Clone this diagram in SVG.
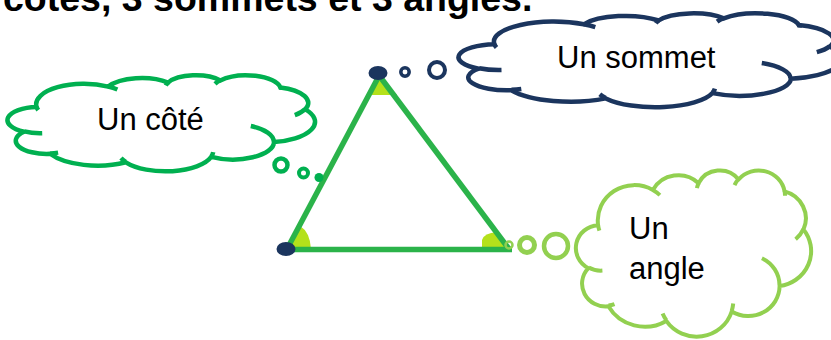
<svg xmlns="http://www.w3.org/2000/svg" width="831" height="340" viewBox="0 0 831 340">
<style>
.cl{fill:#ffffff;stroke-linejoin:round}
.ci{fill:none;stroke-linecap:butt}
.cote{stroke:#00b050;stroke-width:4.5}
.som{stroke:#1b355e;stroke-width:4.5}
.agl{stroke:#92d050;stroke-width:4}
.lbl{font-family:"Liberation Sans",Arial,sans-serif;font-size:31px;fill:#000000}
.title{font-family:"Liberation Sans",Arial,sans-serif;font-size:37.5px;font-weight:bold;fill:#000000}
.edge{stroke:#2bb34a;stroke-width:5.5;fill:none;stroke-linecap:butt}
.ang{fill:#b4e11b}
.vtx{fill:#1b355e}
</style>
<rect width="831" height="340" fill="#ffffff"/>
<g id="title"><text class="title" x="3" y="11">côtés, 3 sommets et 3 angles.</text></g>
<g id="triangle">
<path class="ang" d="M378,76 L370,95 L397,95 Z"/>
<path class="ang" d="M288,249 L300,226 Q310,232 311,249 Z"/>
<path class="ang" d="M482,249 L482,240 Q484,233 497,232 L509,249 Z"/>
<line class="edge" x1="380" y1="74" x2="287" y2="249"/>
<line class="edge" x1="378" y1="74" x2="509" y2="249"/>
<line class="edge" x1="286" y1="249.5" x2="512" y2="249.5"/>
<ellipse class="vtx" cx="378" cy="73" rx="9.5" ry="7"/>
<ellipse class="vtx" cx="286" cy="249" rx="9.5" ry="7"/>
</g>
<g id="connectors">
<circle cx="405" cy="72" r="4.2" fill="none" stroke="#1b355e" stroke-width="3.5"/>
<circle cx="437" cy="70" r="8" fill="none" stroke="#1b355e" stroke-width="4"/>
<circle cx="281" cy="165" r="6.5" fill="none" stroke="#00b050" stroke-width="4.5"/>
<circle cx="303.5" cy="173" r="4.5" fill="none" stroke="#00b050" stroke-width="4"/>
<circle cx="319" cy="177.5" r="4.5" fill="#00b050"/>
<circle cx="509" cy="245" r="3.5" fill="none" stroke="#92d050" stroke-width="2.5"/>
<circle cx="527" cy="245" r="7.5" fill="none" stroke="#92d050" stroke-width="5"/>
<circle cx="556" cy="246" r="12" fill="none" stroke="#92d050" stroke-width="4.5"/>
</g>
<g id="cloud-cote">
<path class="cl cote" d="M36.6,106.9 A47.83,20.42 0 0 1 108.2,86.6 A37.78,16.15 0 0 1 168.1,82.6 A30.92,13.21 0 0 1 220.3,80.5 A34.4,14.66 0 0 1 280.4,87.4 A37.78,16.16 0 0 1 305.2,109.4 A47.99,20.49 0 0 1 274,142.1 A40.98,17.48 0 0 1 211.3,156.8 A47.83,20.48 0 0 1 125.8,162.3 A54.68,23.43 0 0 1 50.1,153.8 A30.88,13.15 0 0 1 24,131.8 A30.78,13.21 0 0 1 36.6,106.9 Z"/>
<path class="ci cote" d="M42.2,133.2 A30.78,13.21 0 0 1 24.3,131.4 M58.1,152.6 A30.88,13.15 0 0 1 50.2,153.4 M125.7,161.9 A47.83,20.48 0 0 1 121,158 M213.2,152.2 A47.83,20.48 0 0 1 211.3,156.5 M250.8,126 A40.98,17.48 0 0 1 273.8,141.9 M305.1,109.1 A37.78,16.16 0 0 1 294.8,115.1 M280.5,87.1 A34.4,14.66 0 0 1 281,89.9 M215,83.8 A34.4,14.66 0 0 1 220.2,80.2 M165.8,85.5 A30.92,13.21 0 0 1 168.4,82.4 M108.2,86.5 A47.83,20.42 0 0 1 117.4,89.5 M38.2,110.1 A47.83,20.42 0 0 1 36.6,106.9"/>
<text class="lbl" x="97" y="130">Un côté</text>
</g>
<g id="cloud-sommet">
<path class="cl som" d="M494.5,44.3 A59.71,20 0 0 1 583.8,24.3 A47.16,15.81 0 0 1 658.6,20.5 A38.6,12.94 0 0 1 723.8,18.4 A42.95,14.35 0 0 1 798.8,25.1 A47.16,15.83 0 0 1 829.8,46.6 A59.91,20.06 0 0 1 790.8,78.7 A51.15,17.12 0 0 1 712.5,93.1 A59.71,20.05 0 0 1 605.8,98.4 A68.26,22.94 0 0 1 511.3,90.2 A38.56,12.88 0 0 1 478.7,68.6 A38.42,12.94 0 0 1 494.5,44.3 Z"/>
<path class="ci som" d="M501.5,70 A38.42,12.94 0 0 1 479.1,68.2 M521.3,88.9 A38.56,12.88 0 0 1 511.5,89.8 M605.7,98.1 A59.71,20.05 0 0 1 599.8,94.3 M714.9,88.6 A59.71,20.05 0 0 1 712.5,92.8 M761.8,63 A51.15,17.12 0 0 1 790.5,78.5 M829.6,46.4 A47.16,15.83 0 0 1 816.8,52.2 M798.9,24.8 A42.95,14.35 0 0 1 799.6,27.6 M717.1,21.6 A42.95,14.35 0 0 1 723.7,18.1 M655.8,23.3 A38.6,12.94 0 0 1 659,20.2 M583.8,24.3 A59.71,20 0 0 1 595.3,27.2 M496.5,47.4 A59.71,20 0 0 1 494.5,44.3"/>
<text class="lbl" x="557" y="68">Un sommet</text>
</g>
<g id="cloud-angle">
<path class="cl agl" d="M598.1,225.2 A36.58,35.31 0 0 1 652.9,190 A28.89,27.92 0 0 1 698.6,183.2 A23.64,22.84 0 0 1 738.6,179.5 A26.31,25.34 0 0 1 784.6,191.4 A28.89,27.95 0 0 1 803.5,229.4 A36.7,35.43 0 0 1 779.6,286.1 A31.33,30.23 0 0 1 731.7,311.5 A36.57,35.41 0 0 1 666.3,320.9 A41.82,40.51 0 0 1 608.4,306.3 A23.62,22.74 0 0 1 588.4,268.2 A23.54,22.84 0 0 1 598.1,225.2 Z"/>
<path class="ci agl" d="M602.4,270.6 A23.54,22.84 0 0 1 588.7,267.5 M614.5,304.1 A23.62,22.74 0 0 1 608.5,305.6 M666.3,320.2 A36.57,35.41 0 0 1 662.6,313.5 M733.2,303.5 A36.57,35.41 0 0 1 731.7,310.9 M761.9,258.2 A31.33,30.23 0 0 1 779.5,285.6 M803.4,229 A28.89,27.95 0 0 1 795.6,239.3 M784.6,190.9 A26.31,25.34 0 0 1 785,195.7 M734.5,185.2 A26.31,25.34 0 0 1 738.5,179 M696.9,188.1 A23.64,22.84 0 0 1 698.9,182.8 M652.8,190 A36.58,35.31 0 0 1 659.9,195.1 M599.4,230.7 A36.58,35.31 0 0 1 598.1,225.2"/>
<text class="lbl" x="629" y="239">Un</text>
<text class="lbl" x="629" y="279">angle</text>
</g>
</svg>
